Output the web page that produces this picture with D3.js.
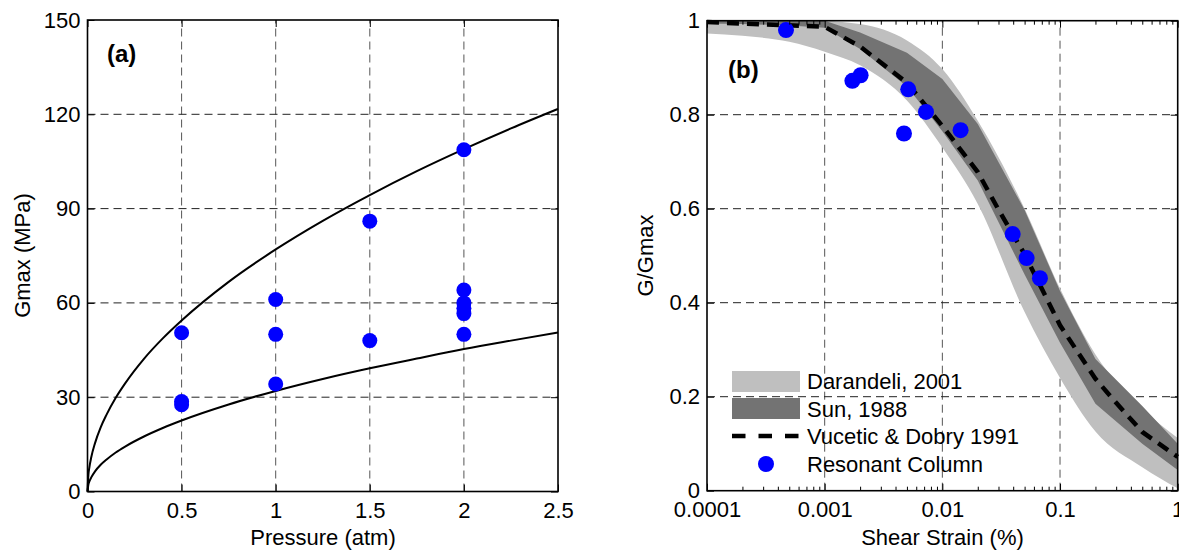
<!DOCTYPE html>
<html>
<head>
<meta charset="utf-8">
<script src="https://cdn.jsdelivr.net/npm/d3@7"></script>
<style>
  body { margin: 0; background: #fff; }
  svg { display: block; }
  text { font-family: "Liberation Sans", Arial, sans-serif; }
</style>
</head>
<body>
<svg id="chart" width="1179" height="550"></svg>
<script>
// ---------- Panel (a) data ----------
const pressureTicks = [0, 0.5, 1, 1.5, 2, 2.5];
const gmaxTicks = [0, 30, 60, 90, 120, 150];
const fitPressure = [0, 0.005, 0.01, 0.02, 0.04, 0.07, 0.1, 0.15, 0.2, 0.3, 0.4, 0.5, 0.75, 1, 1.25, 1.5, 1.75, 2, 2.25, 2.5];
const fitUpper = [0, 5.4, 7.7, 10.9, 15.4, 20.4, 24.3, 29.8, 34.4, 42.2, 48.7, 54.4, 66.7, 77, 86.1, 94.3, 101.9, 108.9, 115.5, 121.7];
const fitLower = [0, 2.3, 3.2, 4.5, 6.4, 8.5, 10.1, 12.4, 14.3, 17.5, 20.2, 22.6, 27.7, 32, 35.8, 39.2, 42.3, 45.3, 48, 50.6];
const testPressure = [0.5, 0.5, 0.5, 1, 1, 1, 1.5, 1.5, 2, 2, 2, 2, 2, 2];
const testGmax = [50.5, 28.6, 27.6, 61.1, 50.0, 34.2, 86.0, 48.0, 108.7, 64.1, 60.0, 58.3, 56.6, 50.0];

// ---------- Panel (b) data ----------
const strainTicks = [0.0001, 0.001, 0.01, 0.1, 1];
const strainTickLabels = ["0.0001", "0.001", "0.01", "0.1", "1"];
const ratioTicks = [0, 0.2, 0.4, 0.6, 0.8, 1];
const ratioTickLabels = ["0", "0.2", "0.4", "0.6", "0.8", "1"];
const bandStrain = [0.0001, 0.0002, 0.0005, 0.001, 0.002, 0.005, 0.01, 0.02, 0.05, 0.1, 0.2, 0.5, 1];
const darandeliUpper = [1.0, 1.0, 1.0, 0.999, 0.993, 0.958, 0.897, 0.787, 0.60, 0.43, 0.29, 0.175, 0.112];
const darandeliLower = [0.973, 0.968, 0.955, 0.934, 0.905, 0.83, 0.73, 0.61, 0.38, 0.24, 0.126, 0.05, 0.005];
const sunUpper = [1.0, 1.0, 1.0, 1.0, 0.975, 0.932, 0.876, 0.78, 0.597, 0.425, 0.28, 0.18, 0.10];
const sunLower = [0.994, 0.993, 0.99, 0.985, 0.94, 0.86, 0.765, 0.66, 0.46, 0.315, 0.185, 0.10, 0.044];
const vdStrain = [0.0001, 0.001, 0.002, 0.005, 0.01, 0.02, 0.03, 0.05, 0.1, 0.2, 0.3, 0.5, 1];
const vdRatio = [0.997, 0.987, 0.945, 0.868, 0.776, 0.678, 0.598, 0.503, 0.352, 0.238, 0.187, 0.125, 0.072];
const rcStrain = [0.000469, 0.00172, 0.00202, 0.00513, 0.00726, 0.00472, 0.01429, 0.0396, 0.052, 0.0675];
const rcRatio = [0.980, 0.872, 0.884, 0.854, 0.806, 0.760, 0.767, 0.546, 0.495, 0.452];
const legendLabels = ["Darandeli, 2001", "Sun, 1988", "Vucetic & Dobry 1991", "Resonant Column"];

const FONT = 22;
const svg = d3.select("#chart");

function frame(g, x, y, xTicks, yTicks, xLabels, yLabels) {
  const [x0, x1] = x.range();
  const [y0, y1] = y.range();
  // grid
  const grid = g.append("g").attr("class", "grid");
  xTicks.slice(1, -1).forEach(t => {
    grid.append("line").attr("x1", x(t)).attr("x2", x(t)).attr("y1", y0).attr("y2", y1)
      .attr("stroke", "#555").attr("stroke-width", 1).attr("stroke-dasharray", "8,5");
  });
  yTicks.slice(1, -1).forEach(t => {
    grid.append("line").attr("x1", x0).attr("x2", x1).attr("y1", y(t)).attr("y2", y(t))
      .attr("stroke", "#222").attr("stroke-width", 1).attr("stroke-dasharray", "8,5");
  });
}

function axes(g, x, y, xTicks, yTicks, xLabels, yLabels, minorX) {
  const [x0, x1] = x.range();
  const [y0, y1] = y.range();
  const bottom = d3.axisBottom(x).tickValues(xTicks).tickFormat((d, i) => xLabels[i]).tickSize(-7).tickPadding(11);
  const top = d3.axisTop(x).tickValues(xTicks).tickFormat("").tickSize(-7);
  const left = d3.axisLeft(y).tickValues(yTicks).tickFormat((d, i) => yLabels[i]).tickSize(-7).tickPadding(7);
  const right = d3.axisRight(y).tickValues(yTicks).tickFormat("").tickSize(-7);
  const gb = g.append("g").attr("transform", `translate(0,${y0})`).call(bottom);
  const gt = g.append("g").attr("transform", `translate(0,${y1})`).call(top);
  const gl = g.append("g").attr("transform", `translate(${x0},0)`).call(left);
  const gr = g.append("g").attr("transform", `translate(${x1},0)`).call(right);
  [gb, gt, gl, gr].forEach(a => {
    a.select(".domain").remove();
    a.selectAll(".tick line").attr("stroke", "#000").attr("stroke-width", 1);
    a.selectAll("text").attr("font-size", FONT).attr("font-family", "Liberation Sans, Arial, sans-serif").attr("fill", "#000");
  });
  if (minorX) {
    const gmb = g.append("g").attr("transform", `translate(0,${y0})`)
      .call(d3.axisBottom(x).tickValues(minorX).tickFormat("").tickSize(-4));
    const gmt = g.append("g").attr("transform", `translate(0,${y1})`)
      .call(d3.axisTop(x).tickValues(minorX).tickFormat("").tickSize(-4));
    [gmb, gmt].forEach(a => { a.select(".domain").remove(); a.selectAll(".tick line").attr("stroke", "#000"); });
  }
  g.append("rect").attr("x", x0).attr("y", y1).attr("width", x1 - x0).attr("height", y0 - y1)
    .attr("fill", "none").attr("stroke", "#000").attr("stroke-width", 1.6);
}

// ---------- Panel (a) ----------
const xa = d3.scaleLinear().domain([0, 2.5]).range([87.5, 558]);
const ya = d3.scaleLinear().domain([0, 150]).range([491.5, 20]);
const ga = svg.append("g");
frame(ga, xa, ya, pressureTicks, gmaxTicks);
const lineA = d3.line().x(d => xa(d[0])).y(d => ya(d[1])).curve(d3.curveMonotoneX);
[fitUpper, fitLower].forEach(vals => {
  ga.append("path").datum(fitPressure.map((p, i) => [p, vals[i]]))
    .attr("d", lineA).attr("fill", "none").attr("stroke", "#000").attr("stroke-width", 2);
});
ga.append("g").selectAll("circle").data(testPressure.map((p, i) => [p, testGmax[i]])).join("circle")
  .attr("cx", d => xa(d[0])).attr("cy", d => ya(d[1])).attr("r", 7.5).attr("fill", "#0000ff");
axes(ga, xa, ya, pressureTicks, gmaxTicks, pressureTicks.map(String), gmaxTicks.map(String));
ga.append("text").attr("x", 107).attr("y", 62).attr("font-family", "Liberation Serif, Times New Roman, serif")
  .attr("font-weight", "bold").attr("font-size", 24).text("(a)");
ga.append("text").attr("x", 323).attr("y", 545).attr("text-anchor", "middle").attr("font-size", FONT).text("Pressure (atm)");
ga.append("text").attr("transform", "translate(30,255.5) rotate(-90)").attr("text-anchor", "middle")
  .attr("font-size", FONT).text("Gmax (MPa)");

// ---------- Panel (b) ----------
const xb = d3.scaleLog().domain([0.0001, 1]).range([707, 1177.7]);
const yb = d3.scaleLinear().domain([0, 1]).range([490.7, 20.7]);
const gb = svg.append("g");
frame(gb, xb, yb, strainTicks, ratioTicks);
const areaSmooth = d3.area().x(d => xb(d[0])).y0(d => yb(d[1])).y1(d => yb(d[2])).curve(d3.curveMonotoneX);
const areaLin = d3.area().x(d => xb(d[0])).y0(d => yb(d[1])).y1(d => yb(d[2]));
gb.append("path").datum(bandStrain.map((s, i) => [s, darandeliLower[i], darandeliUpper[i]]))
  .attr("d", areaSmooth).attr("fill", "#bfbfbf");
gb.append("path").datum(bandStrain.map((s, i) => [s, sunLower[i], sunUpper[i]]))
  .attr("d", areaLin).attr("fill", "#737373");
gb.append("path").datum(vdStrain.map((s, i) => [s, vdRatio[i]]))
  .attr("d", d3.line().x(d => xb(d[0])).y(d => yb(d[1])))
  .attr("fill", "none").attr("stroke", "#000").attr("stroke-width", 4.5).attr("stroke-dasharray", "12,8");
gb.append("g").selectAll("circle").data(rcStrain.map((s, i) => [s, rcRatio[i]])).join("circle")
  .attr("cx", d => xb(d[0])).attr("cy", d => yb(d[1])).attr("r", 8).attr("fill", "#0000ff");
const minorX = [];
[0.0001, 0.001, 0.01, 0.1].forEach(dec => { for (let k = 2; k <= 9; k++) minorX.push(dec * k); });
axes(gb, xb, yb, strainTicks, ratioTicks, strainTickLabels, ratioTickLabels, minorX);
gb.append("text").attr("x", 728).attr("y", 78).attr("font-family", "Liberation Serif, Times New Roman, serif")
  .attr("font-weight", "bold").attr("font-size", 24).text("(b)");
gb.append("text").attr("x", 942.5).attr("y", 545).attr("text-anchor", "middle").attr("font-size", FONT).text("Shear Strain (%)");
gb.append("text").attr("transform", "translate(653,255.5) rotate(-90)").attr("text-anchor", "middle")
  .attr("font-size", FONT).text("G/Gmax");

// legend
const lg = gb.append("g");
lg.append("rect").attr("x", 732).attr("y", 371).attr("width", 68).attr("height", 21).attr("fill", "#bfbfbf");
lg.append("rect").attr("x", 732).attr("y", 398).attr("width", 68).attr("height", 21).attr("fill", "#737373");
lg.append("line").attr("x1", 732).attr("x2", 800).attr("y1", 436).attr("y2", 436)
  .attr("stroke", "#000").attr("stroke-width", 4.5).attr("stroke-dasharray", "13.5,13");
lg.append("circle").attr("cx", 766).attr("cy", 464).attr("r", 8).attr("fill", "#0000ff");
const legendY = [389, 416.5, 444, 472];
legendLabels.forEach((t, i) => {
  lg.append("text").attr("x", 807).attr("y", legendY[i]).attr("font-size", FONT).text(t);
});
</script>
</body>
</html>
